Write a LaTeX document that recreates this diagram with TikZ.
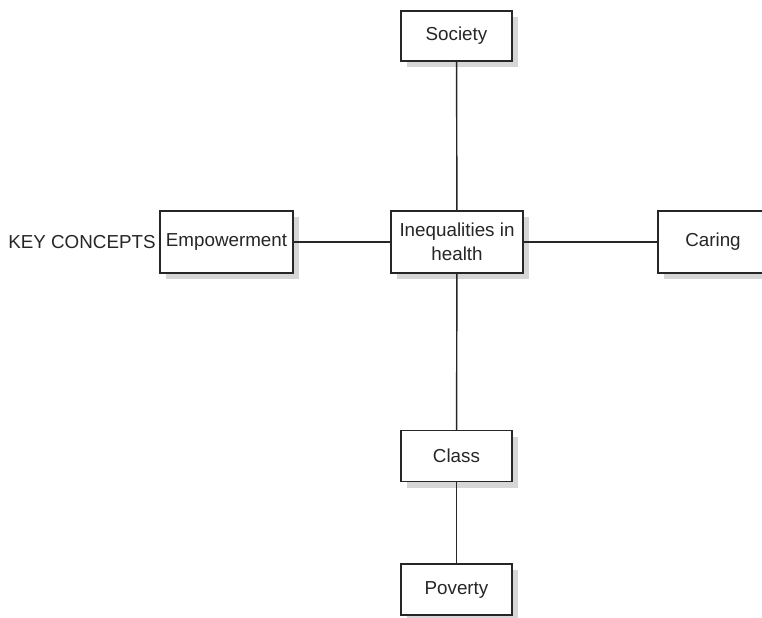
\documentclass[tikz,border=0pt]{standalone}
\usepackage{fontspec}
\setmainfont{Liberation Sans}
\usetikzlibrary{shadows}

\begin{document}
\begin{tikzpicture}
[concept/.style={rectangle, draw=black!85, line width=0.8pt, fill=white, minimum width=#1, align=center, text=black!85, font=\fontsize{10.7}{13.8}\selectfont, drop shadow={shadow xshift=0.12cm, shadow yshift=-0.12cm, fill=black!16, opacity=1}},
link/.style={draw=black!85, line width=0.8pt}]

\useasboundingbox (0,0) rectangle (15.24,-12.36);

\node (society) at (9.13, -0.72) [concept=2.22cm, minimum height=1.0cm] {Society};
\node (empower) at (4.53, -4.84) [concept=2.66cm, minimum height=1.24cm] {Empowerment};
\node (inequal) at (9.14, -4.84) [concept=2.64cm, minimum height=1.24cm] {Inequalities in\\health};
\node (caring) at (14.26, -4.84) [concept=2.2cm, minimum height=1.24cm] {Caring};
\node (class) at (9.13, -9.12) [concept=2.22cm, minimum height=1.02cm] {Class};
\node (poverty) at (9.13, -11.79) [concept=2.22cm, minimum height=1.02cm] {Poverty};
\node (key) at (3.12, -4.84) [anchor=east, inner sep=0pt, text=black!85, font=\fontsize{10.7}{12.5}\selectfont] {KEY CONCEPTS};
\draw [link] (society) -- (inequal);
\draw [link] (empower) -- (inequal);
\draw [link] (inequal) -- (caring);
\draw [link] (inequal) -- (class);
\draw [link] (class) -- (poverty);
\end{tikzpicture}
\end{document}
